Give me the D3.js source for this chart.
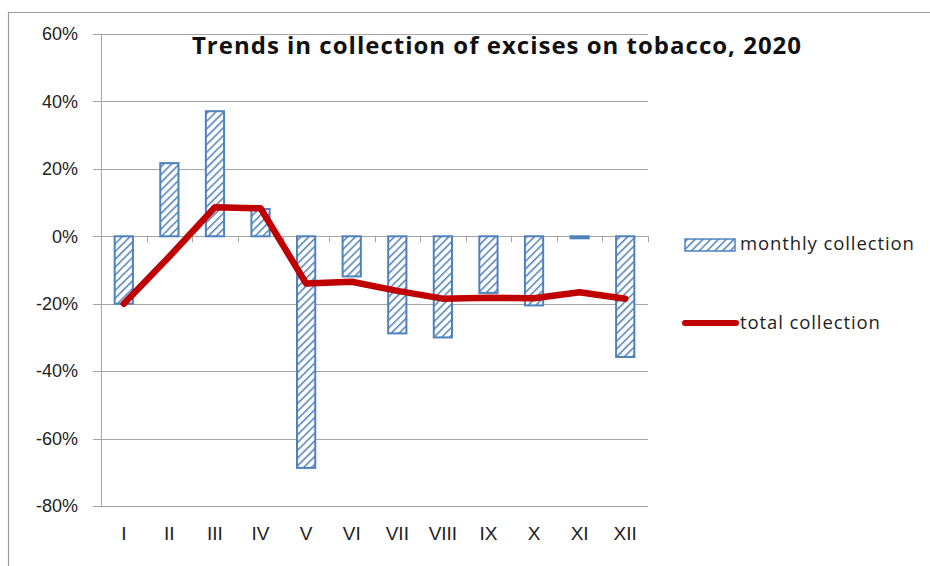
<!DOCTYPE html>
<html>
<head>
<meta charset="utf-8">
<script src="https://cdn.jsdelivr.net/npm/d3@7"></script>
<style>
  html, body { margin: 0; padding: 0; background: #fff; }
  svg { display: block; }
</style>
</head>
<body>
<svg id="chart" width="930" height="566"></svg>
<script>
// Months of 2020 (Roman numerals)
const months = ["I", "II", "III", "IV", "V", "VI", "VII", "VIII", "IX", "X", "XI", "XII"];
// Year-on-year change of monthly collection (%)
const monthlyCollection = [-20.0, 21.7, 37.1, 8.1, -68.7, -11.9, -28.8, -30.0, -16.8, -20.5, -0.6, -35.8];
// Year-on-year change of cumulative (total) collection (%)
const totalCollection = [-20.0, -6.0, 8.6, 8.3, -14.0, -13.5, -16.2, -18.5, -18.2, -18.4, -16.6, -18.5];
// Value axis ticks (%)
const yTicks = [60, 40, 20, 0, -20, -40, -60, -80];

const svg = d3.select("#chart");
const barColor = "#4F81BD";
const lineColor = "#C00000";
const gridColor = "#A6A6A6";

// Outer frame
svg.append("path")
  .attr("d", "M8.5,566 V12.5 H930")
  .attr("fill", "none").attr("stroke", "#9a9a9a").attr("stroke-width", 1.2);

// Diagonal hatch pattern for bars
const defs = svg.append("defs");
const pat = defs.append("pattern")
  .attr("id", "hatch").attr("patternUnits", "userSpaceOnUse")
  .attr("width", 5.5).attr("height", 5.5)
  .attr("patternTransform", "rotate(45)");
pat.append("rect").attr("width", 5.5).attr("height", 5.5).attr("fill", "#fff");
pat.append("line").attr("x1", 0).attr("y1", 0).attr("x2", 0).attr("y2", 5.5)
  .attr("stroke", barColor).attr("stroke-width", 3);

const plot = { left: 101, right: 648, top: 34, bottom: 506 };

const x = d3.scaleBand().domain(months).range([plot.left, plot.right]).paddingInner(0).paddingOuter(0);
const y = d3.scaleLinear().domain([-80, 60]).range([plot.bottom, plot.top]);

// Horizontal gridlines
svg.append("g").selectAll("line").data(yTicks).join("line")
  .attr("x1", plot.left - 8).attr("x2", plot.right)
  .attr("y1", d => Math.round(y(d)) + 0.5).attr("y2", d => Math.round(y(d)) + 0.5)
  .attr("stroke", gridColor).attr("stroke-width", 1);

// Vertical value axis line
svg.append("line")
  .attr("x1", plot.left + 0.5).attr("x2", plot.left + 0.5)
  .attr("y1", plot.top).attr("y2", plot.bottom)
  .attr("stroke", gridColor).attr("stroke-width", 1);

// Value axis labels
const yAxis = d3.axisLeft(y).tickValues(yTicks).tickSize(0).tickPadding(0)
  .tickFormat(d => d + "%");
const yg = svg.append("g").attr("transform", `translate(${plot.left - 23},0)`).call(yAxis);
yg.select(".domain").remove();
yg.selectAll("text")
  .attr("font-family", "Liberation Sans, Arial, sans-serif")
  .attr("font-size", 18).attr("fill", "#222");

// Category tick marks on the zero line
const boundaries = months.map(m => x(m)).concat([plot.right]);
svg.append("g").selectAll("line").data(boundaries.slice(1)).join("line")
  .attr("x1", d => Math.round(d) + 0.5).attr("x2", d => Math.round(d) + 0.5)
  .attr("y1", y(0)).attr("y2", y(0) + 6)
  .attr("stroke", gridColor).attr("stroke-width", 1);

// Category labels along the bottom
const xAxis = d3.axisBottom(x).tickSize(0).tickPadding(0);
const xg = svg.append("g").attr("transform", `translate(0,${plot.bottom + 27})`).call(xAxis);
xg.select(".domain").remove();
xg.selectAll("text")
  .attr("font-family", "Liberation Sans Narrow, Liberation Sans, Arial, sans-serif")
  .attr("font-size", 19).attr("fill", "#222").attr("dy", "0.35em");

// Bars: monthly collection
const barW = x.bandwidth() * 0.4;
svg.append("g").selectAll("rect").data(months).join("rect")
  .attr("x", (m) => x(m) + (x.bandwidth() - barW) / 2)
  .attr("y", (m, i) => y(Math.max(0, monthlyCollection[i])))
  .attr("width", barW)
  .attr("height", (m, i) => Math.abs(y(monthlyCollection[i]) - y(0)))
  .attr("fill", "url(#hatch)")
  .attr("stroke", barColor).attr("stroke-width", 2);

// Line: total collection
const line = d3.line()
  .x((d, i) => x(months[i]) + x.bandwidth() / 2)
  .y(d => y(d));
svg.append("path").datum(totalCollection)
  .attr("d", line)
  .attr("fill", "none").attr("stroke", lineColor)
  .attr("stroke-width", 6.5).attr("stroke-linejoin", "round").attr("stroke-linecap", "round");

// Title
svg.append("text")
  .attr("x", 497).attr("y", 54)
  .attr("text-anchor", "middle")
  .attr("font-family", "Open Sans, Lato, sans-serif")
  .attr("font-weight", "bold").attr("font-size", 24).attr("letter-spacing", 1)
  .attr("fill", "#111")
  .text("Trends in collection of excises on tobacco, 2020");

// Legend
const lg = svg.append("g").attr("font-family", "Open Sans, Lato, sans-serif")
  .attr("font-size", 18.5).attr("letter-spacing", 0.9).attr("fill", "#222");
lg.append("rect").attr("x", 685).attr("y", 239).attr("width", 50).attr("height", 12)
  .attr("fill", "url(#hatch)").attr("stroke", barColor).attr("stroke-width", 1.5);
lg.append("text").attr("x", 740).attr("y", 250).text("monthly collection");
lg.append("line").attr("x1", 685).attr("x2", 736).attr("y1", 323).attr("y2", 323)
  .attr("stroke", lineColor).attr("stroke-width", 6).attr("stroke-linecap", "round");
lg.append("text").attr("x", 740).attr("y", 329).text("total collection");
</script>
</body>
</html>
